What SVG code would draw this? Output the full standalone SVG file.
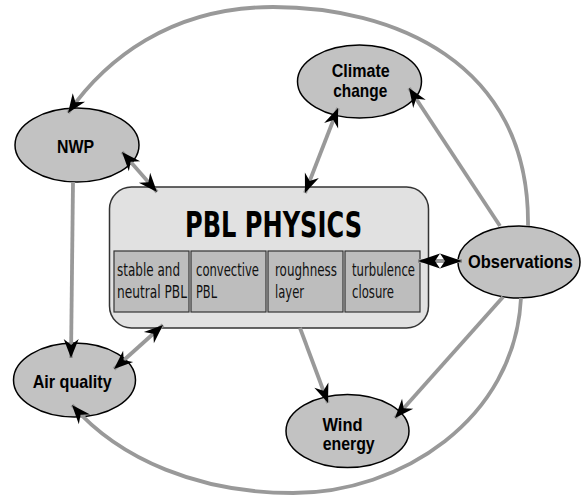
<svg xmlns="http://www.w3.org/2000/svg" width="584" height="497" viewBox="0 0 584 497">
<style>
.ell{fill:#c2c2c2;stroke:#000;stroke-width:1.5}
.main{fill:#e1e1e1;stroke:#333;stroke-width:1.5}
.sub{fill:#bdbdbd;stroke:#333;stroke-width:1.2}
.lbl{font-family:"Liberation Sans Narrow","Liberation Sans",Arial,sans-serif;font-weight:bold;font-size:19px;fill:#000}
.title{font-family:"DejaVu Sans Condensed","DejaVu Sans",sans-serif;font-weight:bold;font-size:36px;fill:#000}
.st{font-family:"DejaVu Sans Condensed","DejaVu Sans",sans-serif;font-size:18px;fill:#111}
.con{fill:none;stroke:#999;stroke-width:3.8}
</style>
<defs>
<marker id="ah" viewBox="-21 -9 22 18" markerWidth="22" markerHeight="18" refX="0" refY="0" orient="auto-start-reverse" markerUnits="userSpaceOnUse">
<path d="M0,0 L-19,-7.5 L-13,0 L-19,7.5 Z" fill="#000"/>
</marker>
<marker id="ahb" viewBox="-23 -9 24 18" markerWidth="24" markerHeight="18" refX="0" refY="0" orient="auto-start-reverse" markerUnits="userSpaceOnUse">
<path d="M0,0 L-22,-7.5 L-17,0 L-22,7.5 Z" fill="#000"/>
</marker>
</defs>

<g id="pbl">
<rect class="main" x="109.5" y="187" width="319" height="141" rx="22"/>
<text class="title" x="185" y="237" textLength="177" lengthAdjust="spacingAndGlyphs">PBL PHYSICS</text>
<rect class="sub" x="114" y="251" width="75" height="61"/>
<rect class="sub" x="191" y="251" width="75" height="61"/>
<rect class="sub" x="268" y="251" width="75" height="61"/>
<rect class="sub" x="345" y="251" width="75" height="61"/>
<text class="st" x="117" y="276" textLength="63" lengthAdjust="spacingAndGlyphs">stable and</text>
<text class="st" x="117" y="298" textLength="70" lengthAdjust="spacingAndGlyphs">neutral PBL</text>
<text class="st" x="196" y="276" textLength="63" lengthAdjust="spacingAndGlyphs">convective</text>
<text class="st" x="196" y="298" textLength="21" lengthAdjust="spacingAndGlyphs">PBL</text>
<text class="st" x="275" y="276" textLength="62" lengthAdjust="spacingAndGlyphs">roughness</text>
<text class="st" x="275" y="298" textLength="29" lengthAdjust="spacingAndGlyphs">layer</text>
<text class="st" x="352" y="276" textLength="63" lengthAdjust="spacingAndGlyphs">turbulence</text>
<text class="st" x="352" y="298" textLength="42" lengthAdjust="spacingAndGlyphs">closure</text>
</g>

<g id="nwp">
<ellipse class="ell" cx="77" cy="145" rx="62" ry="37"/>
<text class="lbl" x="57" y="153" textLength="37" lengthAdjust="spacingAndGlyphs">NWP</text>
</g>
<g id="climate">
<ellipse class="ell" cx="359.5" cy="81.5" rx="62" ry="36.5"/>
<text class="lbl" x="331.7" y="77" textLength="58" lengthAdjust="spacingAndGlyphs">Climate</text>
<text class="lbl" x="333.3" y="97" textLength="54" lengthAdjust="spacingAndGlyphs">change</text>
</g>
<g id="observations">
<ellipse class="ell" cx="519" cy="262" rx="61" ry="36"/>
<text class="lbl" x="468" y="268" textLength="105" lengthAdjust="spacingAndGlyphs">Observations</text>
</g>
<g id="airquality">
<ellipse class="ell" cx="74.5" cy="380" rx="61" ry="37"/>
<text class="lbl" x="32.7" y="387.5" textLength="79" lengthAdjust="spacingAndGlyphs">Air quality</text>
</g>
<g id="wind">
<ellipse class="ell" cx="347.5" cy="431" rx="61.5" ry="36.5"/>
<text class="lbl" x="322.5" y="431" textLength="40" lengthAdjust="spacingAndGlyphs">Wind</text>
<text class="lbl" x="322.7" y="450" textLength="52" lengthAdjust="spacingAndGlyphs">energy</text>
</g>

<g id="connectors">
<path class="con" d="M528,226 C530,60 390,7 273,7 C170,7 105,60 68,113" marker-end="url(#ah)"/>
<path class="con" d="M521,298 C515,420 400,493 293,493 C200,493 120,460 72,405" marker-end="url(#ah)"/>
<path class="con" d="M500,226 L409,88" marker-end="url(#ah)"/>
<path class="con" d="M503,297 L395,418" marker-end="url(#ah)"/>
<path class="con" d="M418,261 L462,261" marker-start="url(#ahb)" marker-end="url(#ahb)"/>
<path class="con" d="M122,152 L157,192" marker-start="url(#ah)" marker-end="url(#ah)"/>
<path class="con" d="M338,108 L305,193" marker-start="url(#ah)" marker-end="url(#ah)"/>
<path class="con" d="M300,328 L328,403" marker-end="url(#ah)"/>
<path class="con" d="M114,369 L163,325" marker-start="url(#ah)" marker-end="url(#ah)"/>
<path class="con" d="M73,182 L71,358" marker-end="url(#ah)"/>
</g>
</svg>
